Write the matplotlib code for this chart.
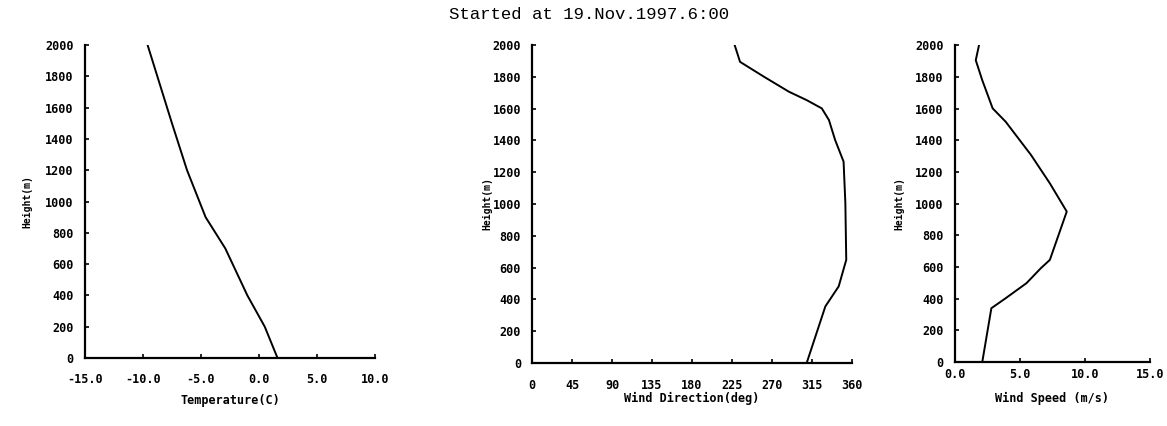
import matplotlib
matplotlib.use('Agg')
import matplotlib.pyplot as plt

# vertical profiles, heights in metres
temp_h = [0, 200, 400, 700, 900, 1200, 1500, 2000]
temp_c = [1.6, 0.5, -1.0, -2.9, -4.6, -6.2, -7.5, -9.6]

wdir_h = [0, 356, 482, 649, 1005, 1267, 1403, 1529, 1602, 1654, 1707, 1801, 1895, 2000]
wdir_deg = [309, 330, 345, 353.5, 352.5, 350.5, 341, 334, 326, 309, 289, 261, 234, 228]

wspd_h = [0, 340, 403, 498, 592, 645, 950, 1128, 1307, 1517, 1601, 1779, 1905, 2000]
wspd_ms = [2.1, 2.8, 3.9, 5.5, 6.6, 7.3, 8.6, 7.3, 5.85, 3.9, 2.9, 2.1, 1.6, 1.85]

height_ticks = list(range(0, 2001, 200))

tick_font = dict(family='DejaVu Sans Mono', weight='bold', size=8.5)
label_font = dict(family='DejaVu Sans Mono', weight='bold')


def profile(ax, x, y, xlim, xticks, xfmt, xlabel, tpad, lpad, ypad):
    ax.plot(x, y, color='black', lw=1.4)
    ax.set_xlim(*xlim)
    ax.set_ylim(0, 2000)
    ax.set_xticks(xticks)
    ax.set_xticklabels([xfmt.format(v) for v in xticks], **tick_font)
    ax.set_yticks(height_ticks)
    ax.set_yticklabels([str(v) for v in height_ticks], **tick_font)
    for side in ('top', 'right'):
        ax.spines[side].set_visible(False)
    for side in ('left', 'bottom'):
        ax.spines[side].set_linewidth(1.6)
    ax.tick_params(direction='in', length=3, width=1.2)
    ax.tick_params(axis='x', pad=tpad)
    ax.tick_params(axis='y', pad=8)
    ax.set_ylabel('Height(m)', size=7, labelpad=ypad, **label_font)
    ax.set_xlabel(xlabel, size=8.5, labelpad=lpad, **label_font)


fig = plt.figure(figsize=(11.67, 4.26), dpi=100)

ax1 = fig.add_axes([0.0728, 0.1596, 0.2485, 0.7347])
profile(ax1, temp_c, temp_h, (-15, 10), [-15, -10, -5, 0, 5, 10], '{:.1f}',
        'Temperature(C)', 10.5, 6, 9.5)

ax2 = fig.add_axes([0.4559, 0.148, 0.2742, 0.746])
profile(ax2, wdir_deg, wdir_h, (0, 360), list(range(0, 361, 45)), '{:d}',
        'Wind Direction(deg)', 11.5, 0, 0)

ax3 = fig.add_axes([0.8183, 0.150, 0.1671, 0.744])
profile(ax3, wspd_ms, wspd_h, (0, 15), [0, 5, 10, 15], '{:.1f}',
        'Wind Speed (m/s)', 4, 8, 8)

fig.text(0.505, 0.965, 'Started at 19.Nov.1997.6:00', ha='center', va='center',
         family='Liberation Mono', size=12.5)

fig.savefig('out.png', dpi=100, facecolor='white')
